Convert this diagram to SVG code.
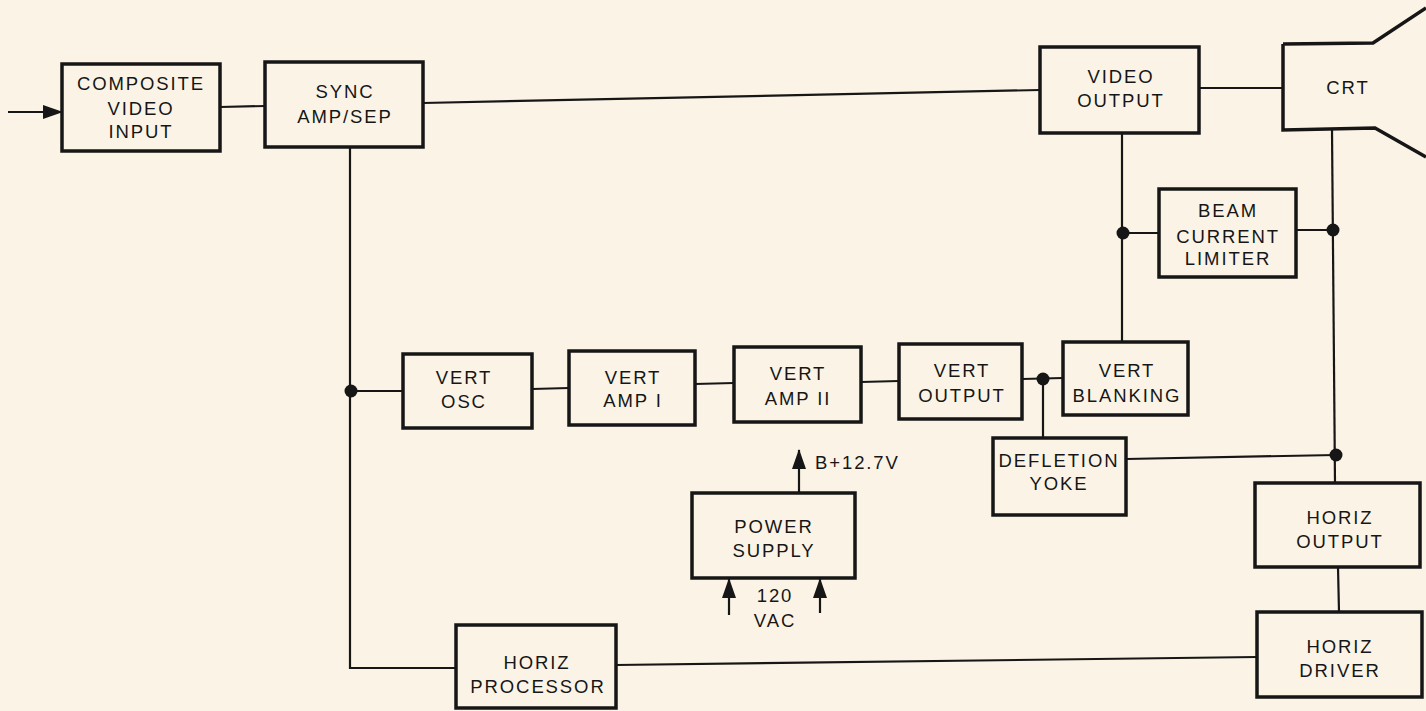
<svg xmlns="http://www.w3.org/2000/svg" width="1426" height="711" viewBox="0 0 1426 711">
<style>
.bg{fill:#fbf4e6}
.box{fill:none;stroke:#161616;stroke-width:3.5}
.ln{fill:none;stroke:#161616;stroke-width:2.2}
.dot{fill:#161616}
text{font-family:"Liberation Sans",Arial,sans-serif;font-size:18.5px;fill:#161616;text-anchor:middle;letter-spacing:1.9px}
</style>
<defs>
<marker id="ahb" viewBox="0 0 20 14" refX="19" refY="7" markerWidth="20" markerHeight="14" markerUnits="userSpaceOnUse" orient="auto">
<path d="M0,0 L20,7 L0,14 Z" fill="#161616"/>
</marker>
</defs>
<rect class="bg" x="0" y="0" width="1426" height="711"/>

<g id="connectors">
<line class="ln" x1="8" y1="112" x2="62" y2="112" marker-end="url(#ahb)"/>
<line class="ln" x1="220" y1="107" x2="265" y2="106"/>
<line class="ln" x1="423" y1="103" x2="1040" y2="90"/>
<line class="ln" x1="1199" y1="88" x2="1283" y2="88"/>
<polyline class="ln" points="350,147 350,668 456,668"/>
<line class="ln" x1="350" y1="391" x2="403" y2="391"/>
<line class="ln" x1="532" y1="389" x2="569" y2="388"/>
<line class="ln" x1="695" y1="384" x2="734" y2="383"/>
<line class="ln" x1="861" y1="382" x2="899" y2="381"/>
<line class="ln" x1="1022" y1="379" x2="1063" y2="378"/>
<line class="ln" x1="1043" y1="379" x2="1043" y2="438"/>
<line class="ln" x1="1122" y1="133" x2="1122" y2="342"/>
<line class="ln" x1="1122" y1="233" x2="1159" y2="233"/>
<line class="ln" x1="1296" y1="230" x2="1333" y2="230"/>
<line class="ln" x1="1332" y1="130" x2="1335" y2="483"/>
<line class="ln" x1="1126" y1="459" x2="1336" y2="455"/>
<line class="ln" x1="1338" y1="567" x2="1339" y2="612"/>
<line class="ln" x1="616" y1="665" x2="1257" y2="657"/>
<line class="ln" x1="799" y1="493" x2="799" y2="450" marker-end="url(#ahb)"/>
<line class="ln" x1="729" y1="615" x2="729" y2="579" marker-end="url(#ahb)"/>
<line class="ln" x1="820" y1="613" x2="820" y2="579" marker-end="url(#ahb)"/>
<circle class="dot" cx="351" cy="391" r="6.5"/>
<circle class="dot" cx="1043" cy="379" r="6.5"/>
<circle class="dot" cx="1123" cy="233" r="6.5"/>
<circle class="dot" cx="1333" cy="230" r="6.5"/>
<circle class="dot" cx="1336" cy="455" r="6.5"/>
</g>

<g id="composite-video-input">
<rect class="box" x="62" y="64" width="158" height="87"/>
<text x="141" y="90">COMPOSITE</text>
<text x="141" y="115">VIDEO</text>
<text x="141" y="138">INPUT</text>
</g>
<g id="sync-amp-sep">
<rect class="box" x="265" y="62" width="158" height="85"/>
<text x="345" y="98">SYNC</text>
<text x="345" y="123">AMP/SEP</text>
</g>
<g id="video-output">
<rect class="box" x="1040" y="47" width="159" height="86"/>
<text x="1121" y="83">VIDEO</text>
<text x="1121" y="107">OUTPUT</text>
</g>
<g id="crt">
<path class="box" d="M1283,44 L1373,43 L1426,8 M1283,44 L1283,130 L1375,128 L1426,157"/>
<text x="1348" y="94">CRT</text>
</g>
<g id="beam-current-limiter">
<rect class="box" x="1159" y="189" width="137" height="88"/>
<text x="1228" y="217">BEAM</text>
<text x="1228" y="243">CURRENT</text>
<text x="1228" y="265">LIMITER</text>
</g>
<g id="vert-osc">
<rect class="box" x="403" y="354" width="129" height="74"/>
<text x="464" y="384">VERT</text>
<text x="464" y="408">OSC</text>
</g>
<g id="vert-amp-i">
<rect class="box" x="569" y="351" width="126" height="74"/>
<text x="633" y="384">VERT</text>
<text x="633" y="407">AMP I</text>
</g>
<g id="vert-amp-ii">
<rect class="box" x="734" y="347" width="127" height="75"/>
<text x="798" y="380">VERT</text>
<text x="798" y="405">AMP II</text>
</g>
<g id="vert-output">
<rect class="box" x="899" y="344" width="123" height="75"/>
<text x="962" y="377">VERT</text>
<text x="962" y="402">OUTPUT</text>
</g>
<g id="vert-blanking">
<rect class="box" x="1063" y="342" width="125" height="73"/>
<text x="1127" y="377">VERT</text>
<text x="1127" y="402">BLANKING</text>
</g>
<g id="defletion-yoke">
<rect class="box" x="993" y="438" width="133" height="77"/>
<text x="1059" y="467">DEFLETION</text>
<text x="1059" y="490">YOKE</text>
</g>
<g id="power-supply">
<rect class="box" x="692" y="493" width="163" height="85"/>
<text x="774" y="533">POWER</text>
<text x="774" y="557">SUPPLY</text>
<text x="775" y="602">120</text>
<text x="775" y="627">VAC</text>
<text x="815" y="469" style="text-anchor:start">B+12.7V</text>
</g>
<g id="horiz-processor">
<rect class="box" x="456" y="625" width="160" height="83"/>
<text x="537" y="669">HORIZ</text>
<text x="538" y="693">PROCESSOR</text>
</g>
<g id="horiz-output">
<rect class="box" x="1255" y="483" width="165" height="84"/>
<text x="1340" y="524">HORIZ</text>
<text x="1340" y="548">OUTPUT</text>
</g>
<g id="horiz-driver">
<rect class="box" x="1257" y="612" width="165" height="85"/>
<text x="1340" y="653">HORIZ</text>
<text x="1340" y="677">DRIVER</text>
</g>
</svg>
